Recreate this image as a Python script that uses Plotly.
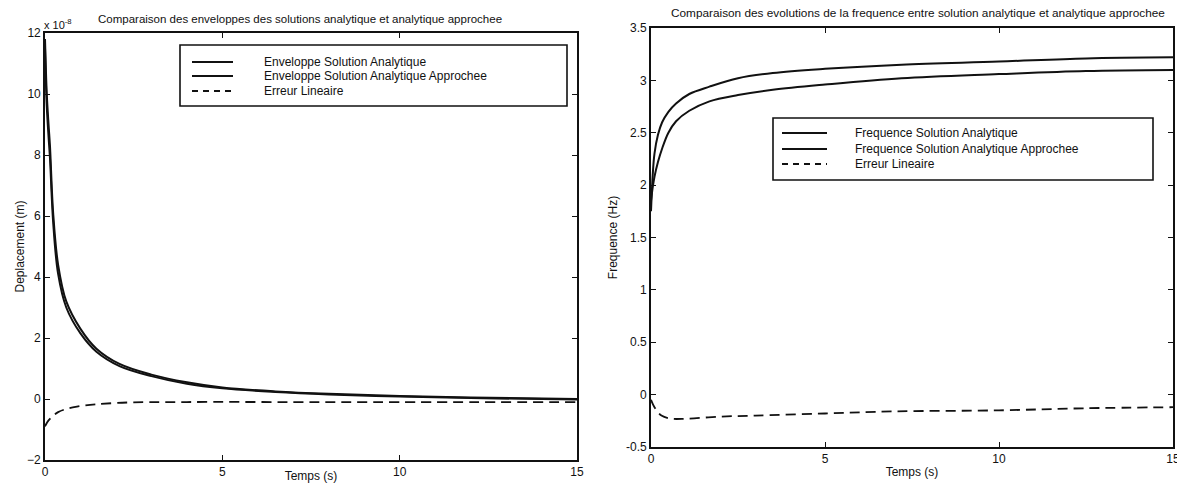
import plotly.graph_objects as go

# ---- data ----
t_env = [0, 0.02, 0.05, 0.1, 0.14, 0.23, 0.37, 0.6, 1.0, 1.45, 2.1, 3, 4, 5, 6.5, 8, 10, 12, 15]
env_analytique = [11.8, 11.0, 10.0, 9.0, 8.3, 6.1, 4.4, 3.2, 2.3, 1.65, 1.15, 0.8, 0.55, 0.38, 0.25, 0.17, 0.1, 0.05, 0.0]
env_approchee = [11.5, 10.6, 9.6, 8.6, 7.9, 5.8, 4.1, 3.0, 2.15, 1.55, 1.08, 0.75, 0.5, 0.35, 0.23, 0.15, 0.08, 0.03, -0.02]
t_err_env = [0, 0.1, 0.37, 0.9, 2, 4, 7, 10, 15]
err_env = [-0.9, -0.7, -0.43, -0.25, -0.13, -0.1, -0.1, -0.1, -0.1]

t_freq = [0, 0.05, 0.1, 0.2, 0.32, 0.5, 0.72, 1.1, 1.68, 2.5, 3.5, 5, 7.2, 10, 12.5, 15]
freq_analytique = [1.75, 2.1, 2.3, 2.48, 2.6, 2.7, 2.78, 2.87, 2.94, 3.02, 3.07, 3.11, 3.15, 3.18, 3.21, 3.22]
freq_approchee = [1.85, 1.98, 2.08, 2.22, 2.35, 2.5, 2.61, 2.71, 2.80, 2.86, 2.91, 2.96, 3.02, 3.06, 3.09, 3.10]
t_err_freq = [0, 0.1, 0.3, 0.6, 1, 2, 3, 5, 7, 10, 12.5, 15]
err_freq = [-0.05, -0.12, -0.2, -0.23, -0.23, -0.21, -0.2, -0.18, -0.16, -0.15, -0.13, -0.12]

left_names = ["Enveloppe Solution Analytique", "Enveloppe Solution Analytique Approchee", "Erreur Lineaire"]
right_names = ["Frequence Solution Analytique", "Frequence Solution Analytique Approchee", "Erreur Lineaire"]

left_yticks = [-2, 0, 2, 4, 6, 8, 10, 12]
right_yticks = [-0.5, 0, 0.5, 1, 1.5, 2, 2.5, 3, 3.5]
right_yticklabels = ["-0.5", "0", "0.5", "1", "1.5", "2", "2.5", "3", "3.5"]
xticks = [0, 5, 10, 15]

INK = "#111111"
FONT = "Liberation Sans, Arial, sans-serif"
DASH = "10px,6px"

W, H = 1177, 483
ML, MR, MT, MB = 45, 4, 27, 23
PW, PH = W - ML - MR, H - MT - MB


def fx(p):
    return (p - ML) / PW


def fy(p):
    return (H - MB - p) / PH


styles = [dict(color=INK, width=2, shape="spline"),
          dict(color=INK, width=2, shape="spline"),
          dict(color=INK, width=1.8, dash=DASH, shape="spline")]

fig = go.Figure()
for name, xs, ys, st in zip(left_names, [t_env, t_env, t_err_env],
                            [env_analytique, env_approchee, err_env], styles):
    fig.add_trace(go.Scatter(x=xs, y=ys, mode="lines", line=st, name=name,
                             showlegend=False, xaxis="x", yaxis="y"))
for name, xs, ys, st in zip(right_names, [t_freq, t_freq, t_err_freq],
                            [freq_analytique, freq_approchee, err_freq], styles):
    fig.add_trace(go.Scatter(x=xs, y=ys, mode="lines", line=st, name=name,
                             showlegend=False, xaxis="x2", yaxis="y2"))

axis_common = dict(showline=True, linecolor=INK, linewidth=1.6, mirror="ticks", ticks="inside",
                   ticklen=5, tickcolor=INK, showgrid=False, zeroline=False, automargin=False,
                   ticklabeloverflow="allow",
                   tickfont=dict(family=FONT, size=12, color=INK))
title_font = dict(family=FONT, size=12, color=INK)

fig.update_layout(
    width=W, height=H,
    margin=dict(l=ML, r=MR, t=MT, b=MB),
    paper_bgcolor="white", plot_bgcolor="white",
    font=dict(family=FONT, color=INK),
    showlegend=False,
    xaxis=dict(domain=[fx(45), fx(577)], range=[0, 15], tickvals=xticks, anchor="y",
               title=dict(text="Temps (s)", font=title_font, standoff=0), **axis_common),
    yaxis=dict(domain=[fy(460), fy(33)], range=[-2, 12], tickvals=left_yticks, anchor="x",
               title=dict(text="Deplacement (m)", font=title_font, standoff=0), **axis_common),
    xaxis2=dict(domain=[fx(651), fx(1173)], range=[0, 15], tickvals=xticks, anchor="y2",
                title=dict(text="Temps (s)", font=title_font, standoff=2), **axis_common),
    yaxis2=dict(domain=[fy(447), fy(28)], range=[-0.5, 3.5], tickvals=right_yticks,
                ticktext=right_yticklabels, anchor="x2",
                title=dict(text="Frequence (Hz)", font=title_font, standoff=6), **axis_common),
)


def draw_legend(box, line_x, text_x, rows, names, dashes):
    x0, y0, x1, y1 = box
    fig.add_shape(type="rect", xref="paper", yref="paper", x0=fx(x0), x1=fx(x1), y0=fy(y1), y1=fy(y0),
                  line=dict(color=INK, width=1.6), fillcolor="white", layer="above")
    for yy, nm, dsh in zip(rows, names, dashes):
        fig.add_shape(type="line", xref="paper", yref="paper", x0=fx(line_x[0]), x1=fx(line_x[1]),
                      y0=fy(yy), y1=fy(yy), line=dict(color=INK, width=1.8, dash=dsh), layer="above")
        fig.add_annotation(text=nm, x=fx(text_x), y=fy(yy), xref="paper", yref="paper",
                           xanchor="left", yanchor="middle", showarrow=False,
                           font=dict(family=FONT, size=12, color=INK))


draw_legend((180, 45, 567, 106), (192, 233), 262, [62, 76, 91], left_names, ["solid", "solid", "6px,5px"])
draw_legend((773, 118, 1153, 180), (782, 827), 853, [133, 149, 164], right_names, ["solid", "solid", "6px,5px"])

fig.add_annotation(text="Comparaison des enveloppes des solutions analytique et analytique approchee",
                   x=fx(300), y=fy(19), xref="paper", yref="paper", showarrow=False,
                   xanchor="center", yanchor="middle",
                   font=dict(family=FONT, size=11.5, color=INK))
fig.add_annotation(text="Comparaison des evolutions de la frequence entre solution analytique et analytique approchee",
                   x=fx(918), y=fy(13), xref="paper", yref="paper", showarrow=False,
                   xanchor="center", yanchor="middle",
                   font=dict(family=FONT, size=11.8, color=INK))
fig.add_annotation(text="x 10<sup>-8</sup>", x=fx(42), y=fy(24), xref="paper", yref="paper",
                   xanchor="left", yanchor="middle", showarrow=False,
                   font=dict(family=FONT, size=11, color=INK))

fig.write_html("out.html", config={"displayModeBar": False},
               post_script="document.body.style.margin='0';document.body.style.overflow='hidden';")
